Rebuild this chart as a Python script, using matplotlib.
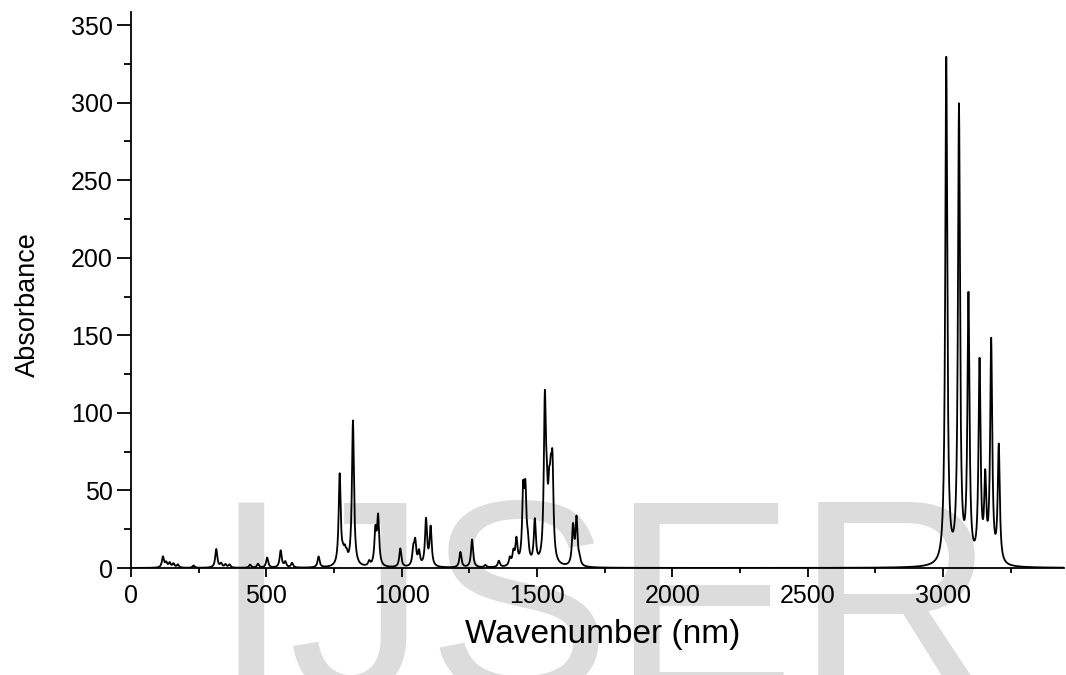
import numpy as np
import matplotlib.pyplot as plt
import matplotlib.ticker as ticker

# calculated IR bands: position (cm-1) and peak height
freq = [118, 130, 143, 157, 173, 231, 315, 333, 349, 364,
        440, 469, 503, 553, 570, 595, 693, 771, 783, 790,
        797, 820, 880, 903, 913, 995, 1043, 1050, 1064, 1090,
        1107, 1217, 1260, 1309, 1359, 1400, 1413, 1424, 1449, 1457,
        1466, 1492, 1529, 1536, 1545, 1551, 1557, 1633, 1646, 1657,
        3012, 3059, 3094, 3135, 3156, 3178, 3206]
inten = [7, 3, 3, 2.5, 2, 1.5, 12, 2.5, 2, 2,
         2, 2.5, 6.5, 11, 3.5, 3, 7, 59, 5, 7,
         5, 94, 3, 22, 31, 12, 10, 15, 9, 30,
         25, 10, 18, 1.5, 4, 5, 8, 16, 44, 43,
         11, 28, 100, 30, 32, 35, 55, 25, 30, 4,
         326, 293, 170, 128, 50, 142, 75]
hwhm = 4.5

x_ticks = [0, 500, 1000, 1500, 2000, 2500, 3000]
y_ticks = [0, 50, 100, 150, 200, 250, 300, 350]


def spectrum(x):
    y = np.zeros_like(x)
    for f, a in zip(freq, inten):
        y += a * hwhm ** 2 / ((x - f) ** 2 + hwhm ** 2)
    return y


fig = plt.figure(figsize=(10.66, 6.75), dpi=100)
# marca d'agua
fig.text(212 / 1066, 1 - 693 / 675, 'IJSER', fontsize=199, color='#dcdcdc',
         family='Liberation Sans', ha='left', va='baseline', zorder=-5)

ax = fig.add_axes([131 / 1066, 1 - 568 / 675, 933 / 1066, 556.3 / 675])
ax.patch.set_visible(False)
wn = np.arange(0, 3447, 1.0)
ax.plot(wn, spectrum(wn), color='black', linewidth=1.3)

ax.set_xlim(0, 3447)
ax.set_ylim(0, 358.6)
ax.spines['top'].set_visible(False)
ax.spines['right'].set_visible(False)
for s in ['left', 'bottom']:
    ax.spines[s].set_linewidth(1.3)
ax.xaxis.set_major_locator(ticker.FixedLocator(x_ticks))
ax.xaxis.set_minor_locator(ticker.MultipleLocator(250))
ax.yaxis.set_major_locator(ticker.FixedLocator(y_ticks))
ax.yaxis.set_minor_locator(ticker.MultipleLocator(25))
ax.tick_params(axis='x', which='major', direction='out', length=6.5, width=1.3,
               labelsize=18, pad=5)
ax.tick_params(axis='x', which='minor', direction='out', length=3.5, width=1.3)
ax.tick_params(axis='y', which='major', direction='out', length=10, width=1.3,
               labelsize=18, pad=3)
ax.tick_params(axis='y', which='minor', direction='out', length=5, width=1.3)
for lab in ax.get_xticklabels() + ax.get_yticklabels():
    lab.set_family('Liberation Sans')

ax.set_xlabel('Wavenumber (nm)', fontsize=24, family='Liberation Sans')
ax.xaxis.set_label_coords(0.506, -0.092)
ax.set_ylabel('Absorbance', fontsize=19.5, family='Liberation Sans')
ax.yaxis.set_label_coords(-0.097, 0.473)

fig.savefig('out.png', dpi=100)
